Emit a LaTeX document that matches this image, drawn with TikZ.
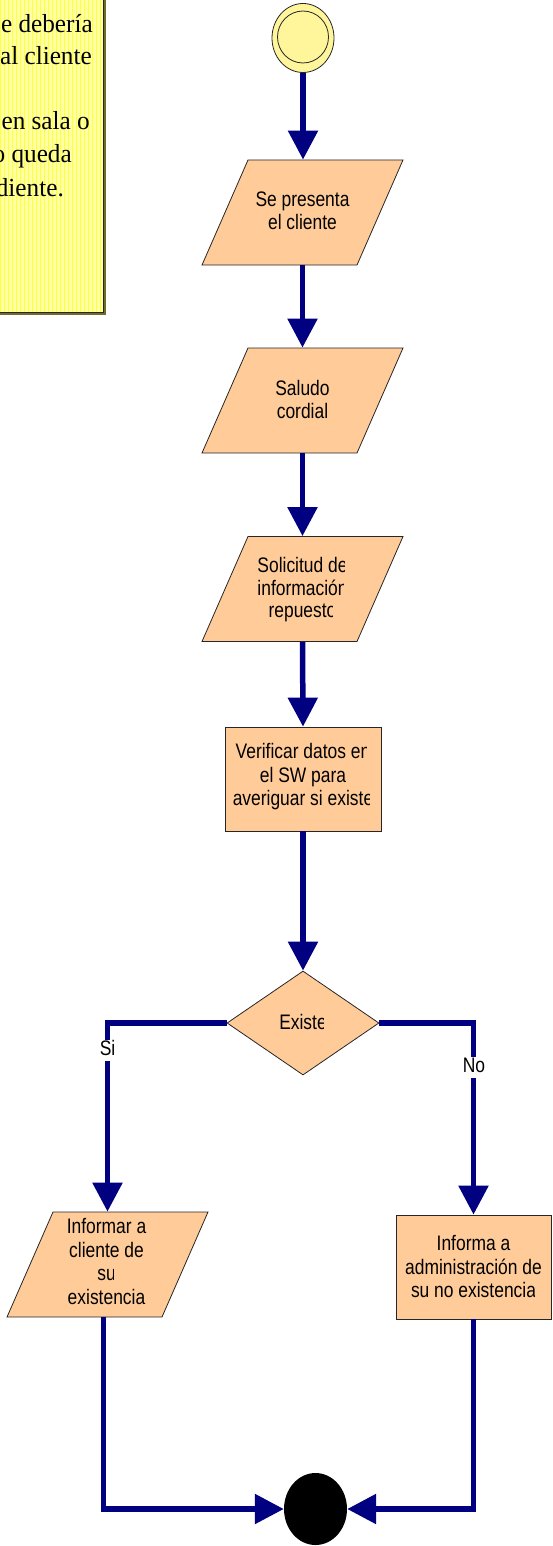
\documentclass[tikz,border=0pt]{standalone}
\usepackage{fontspec}
\setmainfont{Liberation Sans}
\newfontfamily\flowfont[FakeStretch=0.83]{Liberation Sans}
\newfontfamily\notefont[FakeStretch=0.97]{Liberation Serif}
\usetikzlibrary{arrows.meta,shapes.geometric,calc}

\definecolor{flow}{RGB}{0,0,128}
\definecolor{peach}{RGB}{255,204,153}
\definecolor{notefill}{RGB}{255,255,165}
\definecolor{notegrid}{RGB}{255,255,60}
\definecolor{noteshadow}{RGB}{110,110,40}
\definecolor{startfill}{RGB}{255,245,155}

\tikzset{
  box/.style={draw=black!85, line width=0.8pt, fill=peach, minimum width=156pt,
              minimum height=104pt, inner sep=0pt},
  para/.style={box, minimum width=155pt, minimum height=105pt, xslant=0.438},
  flowline/.style={draw=flow, line width=5.5pt},
  arr/.style={flowline, -{Triangle[length=29pt,width=29pt]}},
  lbl/.style={font=\flowfont\fontsize{21}{24}\selectfont, anchor=base, inner sep=0pt},
  branch/.style={lbl, fill=white, inner xsep=2pt, inner ysep=0pt},
  notetxt/.style={font=\notefont\fontsize{26}{30}\selectfont, anchor=base east, inner sep=0pt},
}

% one line of text, cut off on the right at a given x
\newcommand{\clipline}[5]{%
  \begin{scope}
    \clip (0,#3-22) rectangle (#4,#3+8);
    \node[lbl] (#1) at (#2,#3) {#5};
  \end{scope}}

\begin{document}
\begin{tikzpicture}[x=1pt,y=-1pt]
\useasboundingbox (0,0) rectangle (552,1546);

% comment note
\fill[noteshadow] (-5,-5) rectangle (105.5,314.5);
\fill[notefill] (-5,-5) rectangle (103,312);
\begin{scope}
  \clip (-5,-5) rectangle (103,312);
  \draw[notegrid, line width=0.9pt] (-5,-5) grid[step=4] (103,312);
\end{scope}
\draw[black!85, line width=0.8pt] (-5,-5) rectangle (103,312);
\node[notetxt] (n1) at (93,33) {e debería};
\node[notetxt] (n2) at (92,65) {al cliente};
\node[notetxt] (n3) at (90,130) {en sala o};
\node[notetxt] (n4) at (72,163) {o queda};
\node[notetxt] (n5) at (64,197) {diente.};

% start and end
\node[ellipse, draw=black!85, line width=0.8pt, fill=startfill, minimum width=62pt,
      minimum height=69pt, inner sep=0pt] (start) at (303,38) {};
\node[ellipse, draw=black!85, line width=0.8pt, minimum width=51pt,
      minimum height=52pt, inner sep=0pt] (startring) at (303,37) {};
\node[ellipse, fill=black, minimum width=63pt, minimum height=72pt, inner sep=0pt]
      (stop) at (315.5,1509) {};

% steps
\node[para] (p1) at (302.5,212.5) {};
\node[para] (p2) at (302.5,400.5) {};
\node[para] (p3) at (302.5,589) {};
\node[box] (r1) at (303,779) {};
\node[diamond, draw=black!85, line width=0.8pt, fill=peach, minimum width=152pt,
      minimum height=104pt, aspect=1.46, inner sep=0pt] (d) at (303,1023) {};
\node[para] (p4) at (107.5,1264.5) {};
\node[box, minimum width=155pt] (r2) at (473.5,1267) {};

% texts
\clipline{t1a}{302.5}{207}{349}{Se presenta}
\clipline{t1b}{302.5}{230}{336}{el cliente}
\clipline{t2a}{302.5}{395}{328}{Saludo}
\clipline{t2b}{302.5}{418}{330}{cordial}
\clipline{t3a}{302.5}{572}{344}{Solicitud de}
\clipline{t3b}{302.5}{595}{343}{información}
\clipline{t3c}{302.5}{617}{332}{repuesto}
\clipline{t4a}{303}{758}{366}{Verificar datos en}
\clipline{t4b}{303}{782}{347}{el SW para}
\clipline{t4c}{303}{805}{369}{averiguar si existe}
\clipline{t5}{303}{1029}{323}{Existe}
\clipline{t6a}{106.5}{1233}{146}{Informar a}
\clipline{t6b}{106.5}{1257}{142}{cliente de}
\clipline{t6c}{106.5}{1280}{113}{su}
\clipline{t6d}{106.5}{1304}{147}{existencia}
\clipline{t7a}{473.5}{1250}{520}{Informa a}
\clipline{t7b}{473.5}{1274}{545}{administración de}
\clipline{t7c}{473.5}{1297}{534}{su no existencia}

% connectors
\draw[arr] (start.south) -- (start.south |- p1.north);
\draw[arr] (p1.center |- p1.south) -- (p2.center |- p2.north);
\draw[arr] (p2.center |- p2.south) -- (p3.center |- p3.north);
\draw[arr] (p3.center |- p3.south) -- (r1.north);
\draw[arr] (r1.south) -- (d.north);
\draw[arr] (d.west) -| (p4.center |- p4.north);
\draw[arr] (d.east) -| (r2.north);
\coordinate (p4out) at ($(p4.center |- p4.south)+(-4,0)$);
\draw[arr] (p4out) |- (stop.west);
\draw[arr] (r2.south) |- (stop.east);

% branch labels
\node[branch, text height=15pt, text depth=6pt] (si) at (107.5,1055) {Si};
\node[branch, text height=15pt, text depth=6pt] (no) at (474,1072) {No};
\end{tikzpicture}
\end{document}
